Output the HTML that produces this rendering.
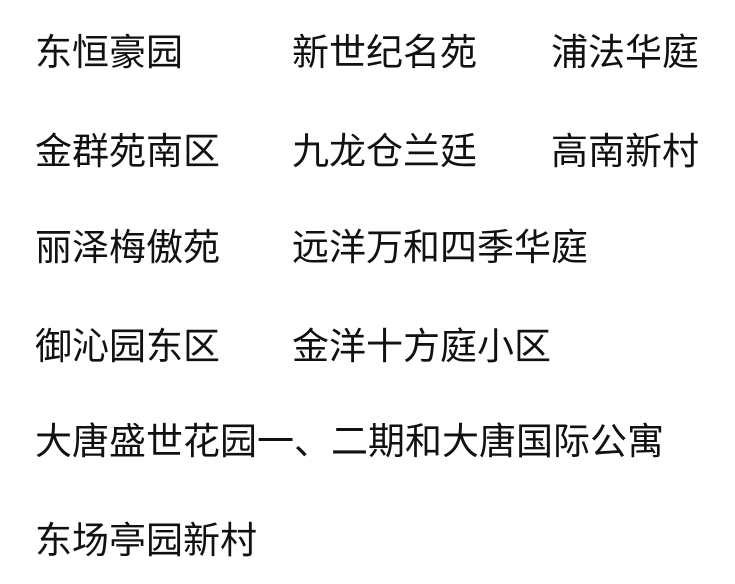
<!DOCTYPE html>
<html><head><meta charset="utf-8"><style>
html,body{margin:0;padding:0;background:#fff;width:735px;height:584px;overflow:hidden}
div{position:absolute;font-family:"Liberation Sans","Noto Sans CJK SC",sans-serif;font-size:37px;line-height:37px;color:#111;white-space:nowrap}
</style></head><body>
<div style="left:35px;top:34px">东恒豪园</div>
<div style="left:292px;top:34px">新世纪名苑</div>
<div style="left:551px;top:34px">浦法华庭</div>
<div style="left:35px;top:133px">金群苑南区</div>
<div style="left:292px;top:133px">九龙仓兰廷</div>
<div style="left:551px;top:133px">高南新村</div>
<div style="left:35px;top:229px">丽泽梅傲苑</div>
<div style="left:292px;top:229px">远洋万和四季华庭</div>
<div style="left:35px;top:328px">御沁园东区</div>
<div style="left:292px;top:328px">金洋十方庭小区</div>
<div style="left:35px;top:423px">大唐盛世花园一、二期和大唐国际公寓</div>
<div style="left:35px;top:522px">东场亭园新村</div>
</body></html>
